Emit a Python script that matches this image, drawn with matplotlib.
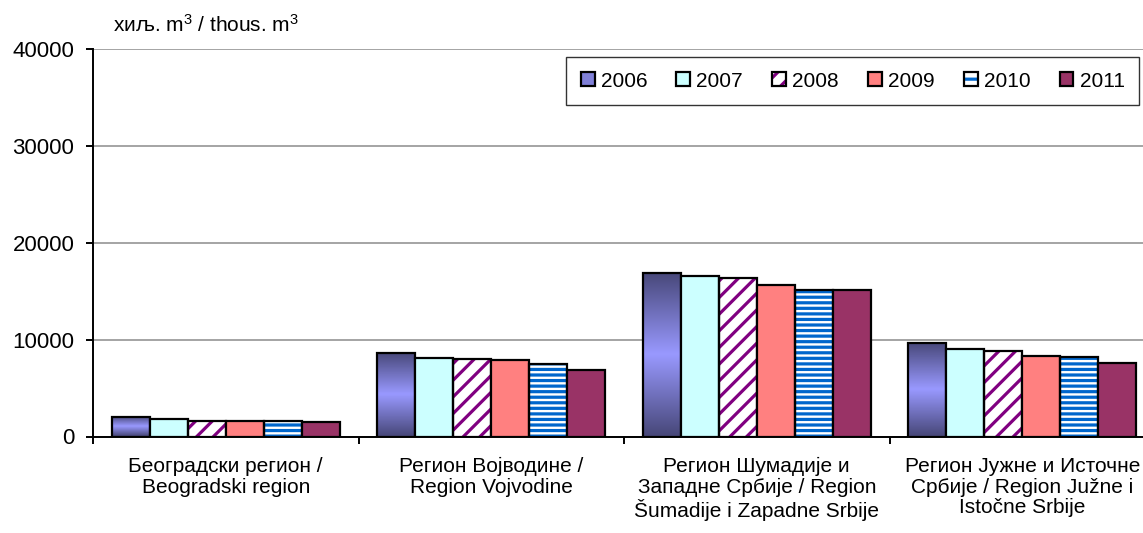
import matplotlib
matplotlib.use("Agg")
import matplotlib.pyplot as plt
import numpy as np
from matplotlib.colors import LinearSegmentedColormap
from matplotlib.patches import Patch
from matplotlib.legend_handler import HandlerTuple

plt.rcParams['font.family'] = ['Liberation Sans', 'DejaVu Sans']
plt.rcParams['mathtext.default'] = 'regular'
plt.rcParams['hatch.linewidth'] = 2.3

# Data
regions = [
    'Београдски регион /\nBeogradski region',
    'Регион Војводине /\nRegion Vojvodine',
    'Регион Шумадије и\nЗападне Србије / Region\nŠumadije i Zapadne Srbije',
    'Регион Јужне и Источне\nСрбије / Region Južne i\nIstočne Srbije',
]
years = ['2006', '2007', '2008', '2009', '2010', '2011']
v2006 = [2050, 8600, 16870, 9660]
v2007 = [1780, 8080, 16560, 9010]
v2008 = [1630, 7980, 16310, 8870]
v2009 = [1630, 7880, 15590, 8350]
v2010 = [1650, 7490, 15170, 8220]
v2011 = [1530, 6900, 15170, 7570]
series = [v2006, v2007, v2008, v2009, v2010, v2011]

fig = plt.figure(figsize=(11.43, 5.33), dpi=100)
ax = fig.add_axes([93 / 1143, 1 - 436.5 / 533, 1062 / 1143, 387.5 / 533])

x = np.arange(len(regions))
w = 0.143
grad = LinearSegmentedColormap.from_list('g', ['#48487a', '#9999ff', '#48487a'])
gimg = np.linspace(0, 1, 100).reshape(-1, 1)

for i, vals in enumerate(series):
    pos = x + (i - 2.5) * w
    if i == 0:
        for p, v in zip(pos, vals):
            ax.imshow(gimg, cmap=grad, extent=[p - w / 2, p + w / 2, 0, v],
                      aspect='auto', zorder=2, interpolation='bilinear')
        ax.bar(pos, vals, w, facecolor='none', edgecolor='black', lw=1.6, zorder=3)
    elif i == 1:
        ax.bar(pos, vals, w, color='#ccffff', edgecolor='black', lw=1.6, zorder=3)
    elif i == 2:
        ax.bar(pos, vals, w, color='white', edgecolor='#800080', hatch='//', lw=0, zorder=2)
        ax.bar(pos, vals, w, facecolor='none', edgecolor='black', lw=1.6, zorder=3)
    elif i == 3:
        ax.bar(pos, vals, w, color='#ff8080', edgecolor='black', lw=1.6, zorder=3)
    elif i == 4:
        ax.bar(pos, vals, w, color='white', edgecolor='#0066cc', hatch='---', lw=0, zorder=2)
        ax.bar(pos, vals, w, facecolor='none', edgecolor='black', lw=1.6, zorder=3)
    else:
        ax.bar(pos, vals, w, color='#993366', edgecolor='black', lw=1.6, zorder=3)

ax.set_xlim(-0.5, len(regions) - 0.5)
ax.set_ylim(0, 40000)
ax.set_yticks([0, 10000, 20000, 30000, 40000])
ax.yaxis.grid(True, color='#8c8c8c', lw=1.1, zorder=0)
ax.set_axisbelow(True)
for s in ['top', 'right']:
    ax.spines[s].set_visible(False)
ax.spines['left'].set_linewidth(1.4)
ax.spines['bottom'].set_linewidth(1.4)
ax.tick_params(axis='y', labelsize=16, length=5, width=1.4, direction='out', pad=8.5)

ax.set_xticks(x)
ax.set_xticklabels(regions, fontsize=15, linespacing=1.1)
ax.tick_params(axis='x', which='major', length=0, pad=15)
ax.set_xticks(np.arange(-0.5, len(regions) + 0.5, 1), minor=True)
ax.tick_params(axis='x', which='minor', length=5, width=1.4, direction='out')

fig.text(113 / 1143, 1 - 32 / 533, 'хиљ. m$^3$ / thous. m$^3$', fontsize=15, va='baseline')

def box(fc):
    return Patch(facecolor=fc, edgecolor='black', lw=1.6)

def hatched(col, h):
    return (Patch(facecolor='white', edgecolor=col, hatch=h, lw=0),
            Patch(facecolor='none', edgecolor='black', lw=1.6))

handles = [box('#8080d8'), box('#ccffff'), hatched('#800080', '//'),
           box('#ff8080'), hatched('#0066cc', '--'), box('#993366')]
leg = fig.legend(handles, years, ncol=6, loc='upper left',
                 bbox_to_anchor=(566 / 1143, 1 - 57 / 533), borderaxespad=0,
                 fontsize=15, frameon=True, fancybox=False, edgecolor='black',
                 handlelength=0.67, handleheight=0.67, handletextpad=0.29,
                 columnspacing=1.4, borderpad=0.7,
                 handler_map={tuple: HandlerTuple(ndivide=1, pad=0)})
leg.get_frame().set_linewidth(1.0)

fig.savefig('out.png', dpi=100)
